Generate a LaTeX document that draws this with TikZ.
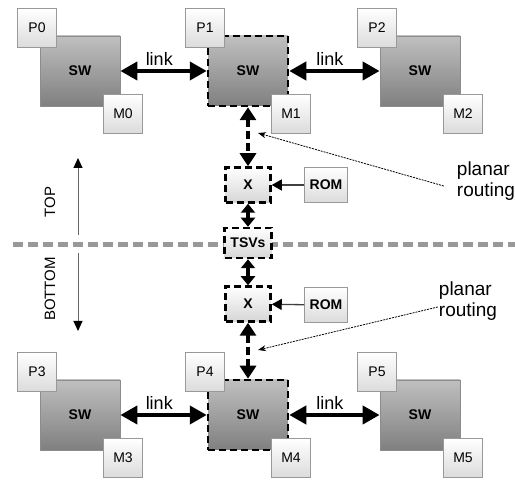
\documentclass[tikz,border=0pt]{standalone}
\usepackage{fontspec}
\setmainfont{Liberation Sans}
\usetikzlibrary{arrows.meta,calc}
\tikzstyle{sw}=[rectangle,minimum width=80pt,minimum height=70pt,inner sep=0pt,top color=black!25,bottom color=black!50,draw=black!45,line width=0.8pt,font=\fontsize{14}{16}\selectfont\bfseries]
\tikzstyle{swdash}=[sw,draw=black,line width=2.5pt,dash pattern=on 7pt off 4pt]
\tikzstyle{port}=[rectangle,minimum size=39pt,inner sep=0pt,top color=white,bottom color=black!14,draw=black!40,line width=0.8pt,font=\fontsize{14}{16}\selectfont]
\tikzstyle{xbar}=[rectangle,minimum width=45pt,minimum height=35pt,inner sep=0pt,top color=white,bottom color=black!16,draw=black,line width=2.5pt,dash pattern=on 7pt off 4pt,font=\fontsize{14}{16}\selectfont\bfseries]
\tikzstyle{rom}=[port,minimum width=43pt,minimum height=35pt,font=\fontsize{14}{16}\selectfont\bfseries]
\tikzstyle{link} = [draw,line width=4pt,{Triangle[length=17pt,width=18pt]}-{Triangle[length=17pt,width=18pt]}]
\tikzstyle{vlink} = [draw,line width=3.5pt,dash pattern=on 8pt off 4pt,{Triangle[length=13pt,width=16pt]}-{Triangle[length=13pt,width=16pt]}]
\tikzstyle{shortlink} = [draw,line width=3.5pt,{Triangle[length=9pt,width=14pt]}-{Triangle[length=9pt,width=14pt]}]
\tikzstyle{romedge} = [draw,line width=1.3pt,black!75,-{Triangle[length=10pt,width=11pt,black]}]
\tikzstyle{layeredge} = [draw,line width=1pt,black!60,-{Triangle[length=10pt,width=9pt,black]}]
\tikzstyle{note} = [draw,line width=0.8pt,dash pattern=on 2pt off 1pt,-{Stealth[length=8pt,width=6pt]}]
\tikzstyle{linklabel} = [font=\fontsize{18}{20}\selectfont]
\tikzstyle{notelabel} = [align=left,inner sep=1pt,font=\fontsize{19}{21}\selectfont]

\begin{document}
\begin{tikzpicture}[x=1pt,y=-1pt]
    \useasboundingbox (0,0) rectangle (515,481);

    % layer boundary
    \coordinate (sepl) at (13,245);
    \coordinate (sepr) at (515,245);
    \draw[line width=5pt,black!40,dash pattern=on 10pt off 5pt] (sepl) -- (sepr);

    \coordinate (topa) at (78,235);
    \coordinate (topb) at (78,158);
    \coordinate (bota) at (78,253);
    \coordinate (botb) at (78,331);
    \path[layeredge] (topa) -- (topb);
    \path[layeredge] (bota) -- (botb);
    \node[rotate=90,font=\fontsize{15}{17}\selectfont] (toplbl) at (50,202) {TOP};
    \node[rotate=90,font=\fontsize{15}{17}\selectfont] (botlbl) at (50,289) {BOTTOM};

    % switches with processor and memory
    \foreach \name/\x/\y/\st in {0/80/71/sw, 1/248/71/swdash, 2/420/71/sw, 3/80/415/sw, 4/248/415/swdash, 5/420/415/sw} {
        \node[\st] (sw\name) at (\x,\y) {SW};
        \node[port] (p\name) at (\x-43,\y-43) {P\name};
        \node[port] (m\name) at (\x+43,\y+43) {M\name};
    }

    % vertical path
    \node[xbar] (xt) at (248,185) {X};
    \node[xbar,minimum width=47pt,minimum height=30pt] (tsv) at (248,243) {TSVs};
    \node[xbar] (xb) at (248,304) {X};
    \node[rom] (romt) at (326,185) {ROM};
    \node[rom] (romb) at (326,305) {ROM};

    % links
    \foreach \source/ \dest in {sw0/sw1, sw1/sw2, sw3/sw4, sw4/sw5}
        \path[link] (\source) -- node[linklabel,above,pos=0.45] {link} (\dest);

    \foreach \source/ \dest in {sw1/xt, xb/sw4}
        \path[vlink] (\source) -- (\dest);
    \foreach \source/ \dest in {xt/tsv, tsv/xb}
        \path[shortlink] (\source) -- (\dest);

    \path[romedge] (romt) -- (xt);
    \path[romedge] (romb) -- (xb);

    % planar routing notes
    \node[notelabel] (prt) at (486,181) {planar\\routing};
    \node[notelabel] (prb) at (468,301) {planar\\routing};
    \coordinate (prta) at (258,133);
    \coordinate (prba) at (258,350);
    \path[note] ([xshift=-12pt,yshift=-5pt]prt.west) -- (prta);
    \path[note] ([yshift=-6pt]prb.west) -- (prba);

\end{tikzpicture}
\end{document}
